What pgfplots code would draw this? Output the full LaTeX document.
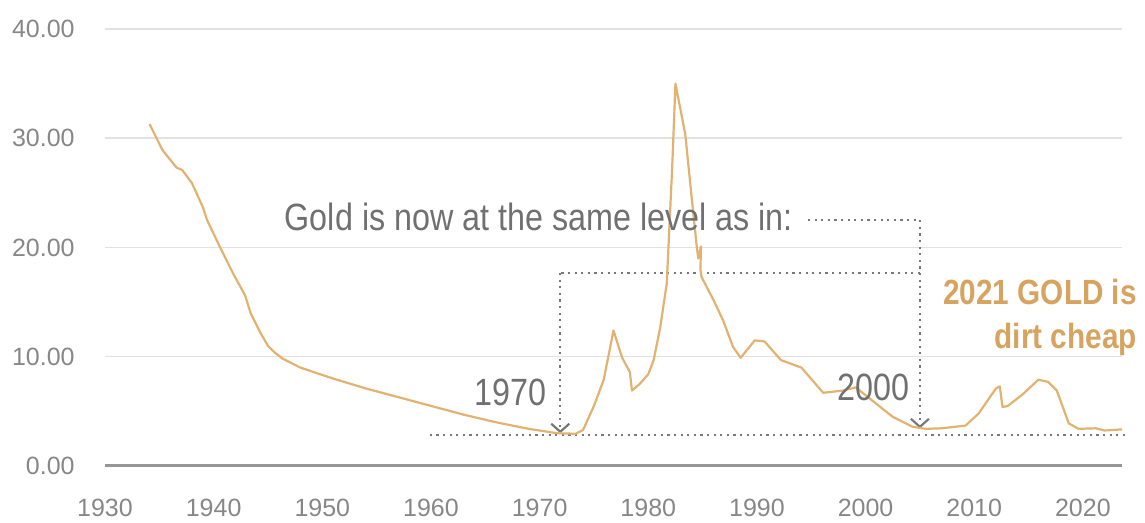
\documentclass[border=0pt]{standalone}
\usepackage{fontspec}
\setmainfont{Liberation Sans}
\newfontfamily\condensed{Liberation Sans}[FakeStretch=0.85]
\usepackage{pgfplots}
\pgfplotsset{compat=1.18}
\usetikzlibrary{arrows.meta}
\definecolor{goldline}{RGB}{226,178,112}
\definecolor{goldtext}{RGB}{214,164,96}
\definecolor{gridgray}{RGB}{226,226,226}
\definecolor{axisgray}{RGB}{150,150,150}
\definecolor{tickgray}{RGB}{135,135,135}
\definecolor{annogray}{RGB}{112,112,112}
\definecolor{dotgray}{RGB}{120,120,120}
\begin{document}
\begin{tikzpicture}
\begin{axis}[
  at={(0,0)}, anchor=south west,
  scale only axis, width=508.5pt, height=218.5pt,
  xmin=1930, xmax=2023.6, ymin=0, ymax=40,
  clip=false,
  axis y line*=left,
  y axis line style={draw=none},
  axis x line*=bottom,
  x axis line style={draw=axisgray, line width=1.5pt, -},
  xtick={1930,1940,...,2020},
  ytick={0,10,20,30,40},
  ymajorgrids,
  major grid style={draw=gridgray, line width=0.75pt},
  major tick length=0pt,
  /pgf/number format/assume math mode=true,
  xticklabel style={/pgf/number format/1000 sep={}, font=\fontsize{12.5}{14}\selectfont, text=tickgray, anchor=north, inner sep=0pt, yshift=-16.5pt},
  yticklabel style={/pgf/number format/fixed, /pgf/number format/fixed zerofill, /pgf/number format/precision=2, font=\fontsize{12.5}{14}\selectfont, text=tickgray, anchor=east, inner sep=0pt, xshift=-15pt},
]
% annotation dotted lines
\draw[dotgray, line width=1.1pt, dash pattern=on 1.1pt off 2.2pt] (axis cs:1959.9,2.84) -- (axis cs:2024.2,2.84);
\draw[dotgray, line width=1.1pt, dash pattern=on 1.1pt off 2.2pt] (axis cs:2005.0,17.67) -- (axis cs:1971.9,17.67);
\draw[dotgray, line width=1.1pt, dash pattern=on 1.1pt off 2.2pt, -{Straight Barb[length=4pt,width=9pt]}] (axis cs:1971.9,17.67) -- (axis cs:1971.9,3.0);
\draw[dotgray, line width=1.1pt, dash pattern=on 1.1pt off 2.2pt] (axis cs:1994.7,22.5) -- (axis cs:2005.0,22.5);
\draw[dotgray, line width=1.1pt, dash pattern=on 1.1pt off 2.2pt, -{Straight Barb[length=4pt,width=9pt]}] (axis cs:2005.0,22.5) -- (axis cs:2005.0,3.45);
\addplot[goldline, line width=1.1pt, line join=round, mark=none] coordinates {
(1934.1,31.3) (1935.3,28.9) (1936.6,27.3) (1937.1,27.1) (1938.0,25.9)
(1939.0,23.7) (1939.4,22.5) (1940.6,20.0) (1941.8,17.6) (1942.9,15.6)
(1943.4,14.0) (1944.3,12.2) (1945.0,11.0) (1945.6,10.4) (1946.4,9.8)
(1948.0,9.0) (1951.0,8.0) (1954.0,7.1) (1957.0,6.3) (1960.0,5.5)
(1963.0,4.7) (1966.0,4.0) (1969.0,3.4) (1971.6,3.0) (1973.3,2.95)
(1974.0,3.3) (1975.0,5.5) (1975.9,7.9) (1976.8,12.4) (1977.6,9.9)
(1978.3,8.6) (1978.5,6.9) (1979.2,7.5) (1980.0,8.4) (1980.5,9.7)
(1981.1,12.7) (1981.7,16.7) (1982.2,27.3) (1982.5,35.0) (1983.4,30.4)
(1983.9,25.5) (1984.45,20.2) (1984.6,19.0) (1984.85,20.1) (1984.8,18.0)
(1984.9,17.3) (1986.0,15.2) (1986.9,13.3) (1987.8,10.9) (1988.5,9.9)
(1989.8,11.5) (1990.7,11.4) (1992.2,9.7) (1994.1,9.0) (1996.1,6.7)
(1997.9,6.9) (1999.1,7.2) (2000.6,6.0) (2002.5,4.5) (2004.3,3.6)
(2005.5,3.4) (2007.0,3.45) (2009.2,3.7) (2010.4,4.8) (2012.0,7.1)
(2012.35,7.3) (2012.6,5.4) (2013.1,5.5) (2014.5,6.6) (2015.9,7.9)
(2016.8,7.7) (2017.6,6.9) (2018.7,3.9) (2019.6,3.4) (2021.2,3.45)
(2022.0,3.25) (2023.6,3.35)
};
% text annotations
\node[anchor=base east, inner sep=0pt, text=annogray, font=\condensed\fontsize{19}{22}\selectfont] at (axis cs:1993.35,21.6) {Gold is now at the same level as in:};
\node[anchor=base east, inner sep=0pt, text=annogray, font=\condensed\fontsize{19}{22}\selectfont] at (axis cs:1970.7,5.58) {1970};
\node[anchor=base west, inner sep=0pt, text=annogray, font=\condensed\fontsize{19}{22}\selectfont] at (axis cs:1997.4,6.04) {2000};
\node[anchor=base east, inner sep=0pt, text=goldtext, font=\condensed\bfseries\fontsize{17.5}{21}\selectfont] at (axis cs:2025.0,14.74) {2021 GOLD is};
\node[anchor=base east, inner sep=0pt, text=goldtext, font=\condensed\bfseries\fontsize{17.5}{21}\selectfont] at (axis cs:2025.0,10.8) {dirt cheap};
\end{axis}
\pgfresetboundingbox
\path[use as bounding box] (-52.5pt,-28.5pt) rectangle (520pt,233pt);
\end{tikzpicture}
\end{document}
